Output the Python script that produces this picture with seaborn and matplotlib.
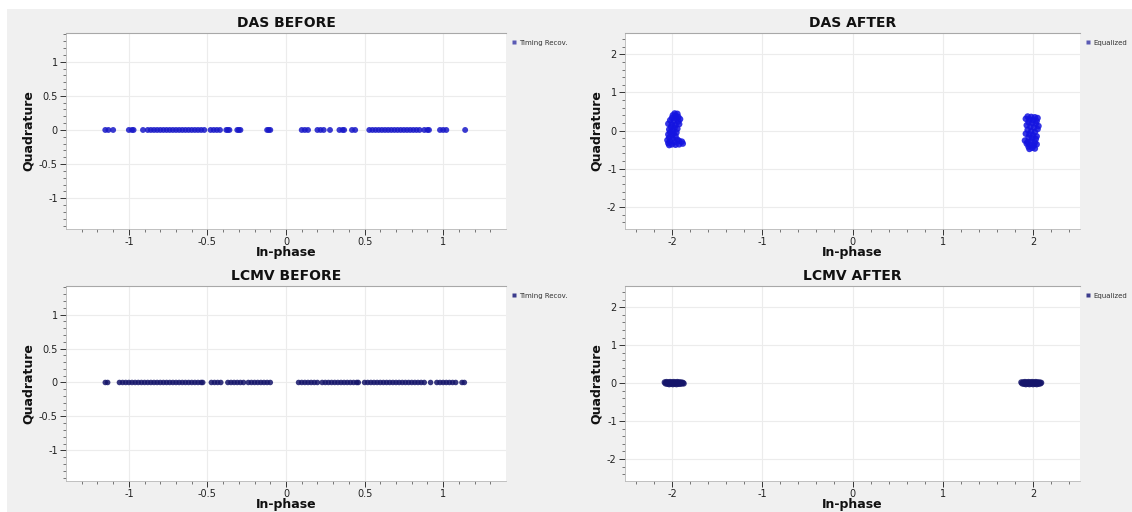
import numpy as np
import pandas as pd
import matplotlib
matplotlib.use("Agg")
import matplotlib.pyplot as plt
from matplotlib.lines import Line2D
from matplotlib.patches import Rectangle
import seaborn as sns

# ---------------- data ----------------
titles = ["DAS BEFORE", "DAS AFTER", "LCMV BEFORE", "LCMV AFTER"]
legend_labels = ["Timing Recov.", "Equalized", "Timing Recov.", "Equalized"]

das_before_i = [-1.15, -1.13, -1.10, -1.00, -0.98, -0.97, -0.91, -0.88, -0.86, -0.84,
                -0.82, -0.80, -0.78, -0.76, -0.74, -0.72, -0.70, -0.68, -0.66, -0.64,
                -0.62, -0.60, -0.58, -0.56, -0.54, -0.52, -0.48, -0.46, -0.44, -0.42,
                -0.38, -0.37, -0.36, -0.31, -0.30, -0.29, -0.12, -0.11, -0.10,
                0.10, 0.12, 0.14, 0.20, 0.22, 0.24, 0.28, 0.34, 0.36, 0.37, 0.42, 0.44,
                0.53, 0.55, 0.57, 0.59, 0.61, 0.63, 0.65, 0.67, 0.69, 0.71, 0.73, 0.75,
                0.77, 0.79, 0.81, 0.83, 0.85, 0.88, 0.90, 0.91, 0.98, 1.00, 1.02, 1.14]
das_before_q = [0.0] * len(das_before_i)

das_after_i = [-1.97, -1.94, -1.99, -1.96, -1.93, -2.00, -1.95, -1.91, -2.02, -1.98,
               -1.93, -2.04, -2.00, -1.96, -1.92, -2.01, -1.97, -1.94, -2.03, -1.99,
               -2.02, -1.98, -1.95, -2.04, -2.00, -1.96, -2.03, -1.99, -1.94, -2.05,
               -2.02, -1.97, -1.92, -1.89, -2.04, -2.00, -1.96, -1.92, -1.88, -2.03,
               1.94, 1.98, 2.02, 2.05, 1.92, 1.96, 2.00, 2.04, 1.95, 1.99,
               2.03, 2.06, 1.93, 1.97, 2.01, 2.05, 1.94, 1.98, 2.02, 1.92,
               1.96, 2.00, 2.04, 1.95, 1.99, 2.03, 1.91, 1.94, 1.98, 2.02,
               1.93, 1.97, 2.01, 2.04, 1.95, 1.99, 2.02, 1.96]
das_after_q = [0.45, 0.44, 0.40, 0.38, 0.36, 0.33, 0.31, 0.30, 0.27, 0.25,
               0.24, 0.18, 0.16, 0.15, 0.17, 0.10, 0.08, 0.05, 0.03, 0.00,
               -0.04, -0.07, -0.05, -0.10, -0.13, -0.15, -0.18, -0.21, -0.24, -0.25,
               -0.28, -0.30, -0.27, -0.29, -0.33, -0.36, -0.37, -0.36, -0.34, -0.38,
               0.37, 0.36, 0.35, 0.33, 0.31, 0.29, 0.28, 0.25, 0.22, 0.20,
               0.18, 0.12, 0.14, 0.10, 0.08, 0.04, 0.02, -0.02, -0.04, -0.08,
               -0.10, -0.12, -0.15, -0.18, -0.20, -0.22, -0.26, -0.30, -0.28, -0.31,
               -0.34, -0.37, -0.39, -0.36, -0.42, -0.45, -0.47, -0.48]

lcmv_before_i = [-1.15, -1.135,
                 -1.06, -1.04, -1.02, -1.00, -0.98, -0.96, -0.94, -0.92, -0.90, -0.88,
                 -0.86, -0.84, -0.82, -0.80, -0.78, -0.76, -0.74, -0.72, -0.70, -0.68,
                 -0.66, -0.64, -0.62, -0.60, -0.58, -0.56, -0.54, -0.53,
                 -0.475, -0.455, -0.435, -0.415,
                 -0.37, -0.35, -0.33, -0.31, -0.29, -0.27,
                 -0.24, -0.22, -0.20, -0.18, -0.16, -0.14, -0.12, -0.10,
                 0.08, 0.10, 0.12, 0.14, 0.16, 0.18, 0.20,
                 0.23, 0.25, 0.27, 0.29, 0.31, 0.33, 0.35, 0.37, 0.39, 0.41, 0.43, 0.45, 0.46,
                 0.50, 0.52, 0.54, 0.56, 0.58, 0.60, 0.62, 0.64, 0.66, 0.68, 0.70, 0.72,
                 0.74, 0.76, 0.78, 0.80, 0.82, 0.84, 0.86, 0.88, 0.92,
                 0.96, 0.98, 1.00, 1.02, 1.04, 1.06, 1.08, 1.12, 1.135]
lcmv_before_q = [0.0] * len(lcmv_before_i)

lcmv_after_i = [-2.08, -2.06, -2.04, -2.02, -2.00, -1.98, -1.96, -1.94, -1.92, -1.90, -1.88,
                -2.07, -2.05, -2.03, -2.01, -1.99, -1.97, -1.95, -1.93, -1.91, -1.89, -1.87,
                1.87, 1.89, 1.91, 1.93, 1.95, 1.97, 1.99, 2.01, 2.03, 2.05, 2.07, 2.09,
                1.88, 1.90, 1.92, 1.94, 1.96, 1.98, 2.00, 2.02, 2.04, 2.06, 2.08]
lcmv_after_q = [0.02, 0.03, 0.02, 0.03, 0.02, 0.03, 0.02, 0.03, 0.02, 0.02, 0.01,
                -0.01, -0.02, -0.03, -0.02, -0.03, -0.02, -0.03, -0.02, -0.02, -0.01, -0.01,
                0.02, 0.02, 0.03, 0.02, 0.03, 0.02, 0.03, 0.02, 0.03, 0.02, 0.02, 0.01,
                -0.01, -0.02, -0.03, -0.02, -0.03, -0.02, -0.03, -0.02, -0.03, -0.02, -0.01]

panel_data = [(das_before_i, das_before_q), (das_after_i, das_after_q),
              (lcmv_before_i, lcmv_before_q), (lcmv_after_i, lcmv_after_q)]

before_xticks = [-1, -0.5, 0, 0.5, 1]
before_xticklabels = ["-1", "-0.5", "0", "0.5", "1"]
before_yticks = [-1, -0.5, 0, 0.5, 1]
before_yticklabels = ["-1", "-0.5", "0", "0.5", "1"]
after_ticks = [-2, -1, 0, 1, 2]
after_ticklabels = ["-2", "-1", "0", "1", "2"]

# ---------------- styling ----------------
sns.set_theme(style="white")
plt.rcParams['font.family'] = ['DejaVu Sans']

W, H = 1132, 512
fig = plt.figure(figsize=(W / 100, H / 100), dpi=100, facecolor="white")
fig.patches.append(Rectangle((7 / W, 0), 1 - 7 / W, 1 - 9 / H, transform=fig.transFigure,
                             facecolor="#f0f0f0", edgecolor="none", zorder=-10))

boxes = [(66, 33, 506, 229), (625, 33, 1080, 229),
         (66, 286, 506, 481), (625, 286, 1080, 481)]
colors = ["#1818c8", "#1414e0", "#15156a", "#15156a"]
leg_colors = ["#5a5ab4", "#5a5ab4", "#3c3c8c", "#3c3c8c"]
sizes = [18, 22, 16, 20]

for k, (title, (xi, yq)) in enumerate(zip(titles, panel_data)):
    x0, y0, x1, y1 = boxes[k]
    ax = fig.add_axes([x0 / W, 1 - y1 / H, (x1 - x0) / W, (y1 - y0) / H])
    ax.set_facecolor("white")
    df = pd.DataFrame({"In-phase": xi, "Quadrature": yq})
    sns.scatterplot(data=df, x="In-phase", y="Quadrature", ax=ax, s=sizes[k],
                    color=colors[k], edgecolor="none", alpha=0.85, marker="o",
                    legend=False, zorder=3)
    before = (k % 2 == 0)
    if before:
        ax.set_xlim(-1.40, 1.40)
        ax.set_ylim(-1.45, 1.42)
        ax.set_xticks(before_xticks)
        ax.set_xticklabels(before_xticklabels)
        ax.set_yticks(before_yticks)
        ax.set_yticklabels(before_yticklabels)
        ax.set_xticks(np.arange(-1.3, 1.35, 0.1), minor=True)
        ax.set_yticks(np.arange(-1.4, 1.45, 0.1), minor=True)
    else:
        ax.set_xlim(-2.52, 2.52)
        ax.set_ylim(-2.58, 2.56)
        ax.set_xticks(after_ticks)
        ax.set_xticklabels(after_ticklabels)
        ax.set_yticks(after_ticks)
        ax.set_yticklabels(after_ticklabels)
        ax.set_xticks(np.arange(-2.4, 2.45, 0.2), minor=True)
        ax.set_yticks(np.arange(-2.4, 2.45, 0.2), minor=True)

    ax.grid(True, which="major", color="#ececec", linewidth=0.8, zorder=0)
    ax.set_axisbelow(True)
    for side in ["left", "bottom"]:
        ax.spines[side].set_color("#b8b8b8")
        ax.spines[side].set_linewidth(0.6)
    ax.spines["top"].set_color("#a8a8a8")
    ax.spines["top"].set_linewidth(0.8)
    ax.spines["right"].set_visible(False)
    ax.tick_params(axis="both", which="major", direction="out", length=4, width=0.7,
                   color="#333333", labelsize=7, labelcolor="#222222", pad=2,
                   bottom=True, left=True)
    ax.tick_params(axis="both", which="minor", direction="out", length=2, width=0.5,
                   color="#444444", bottom=True, left=True)

    ax.set_title(title, fontsize=10, fontweight="bold", pad=4, color="#111111")
    ax.set_xlabel("In-phase", fontsize=9, fontweight="bold", labelpad=-1, color="#111111")
    ax.set_ylabel("Quadrature", fontsize=9, fontweight="bold", labelpad=3, color="#111111")

    handle = Line2D([], [], marker="s", linestyle="none", markersize=3.2,
                    markerfacecolor=leg_colors[k], markeredgecolor="none")
    leg = ax.legend([handle], [legend_labels[k]], loc="upper left",
                    bbox_to_anchor=(1.0, 0.99), frameon=False, fontsize=5,
                    handletextpad=0.2, borderaxespad=0.3, handlelength=1.0)
    for t in leg.get_texts():
        t.set_color("#333333")

fig.savefig("out.png", dpi=100, facecolor=fig.get_facecolor())
